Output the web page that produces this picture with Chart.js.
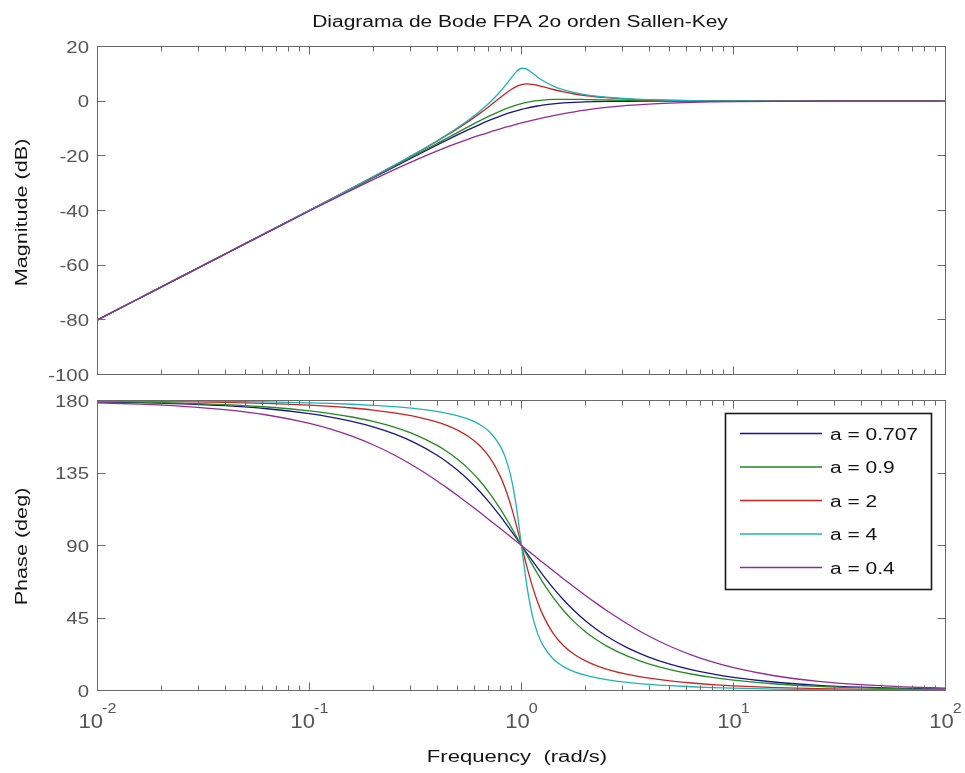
<!DOCTYPE html>
<html>
<head>
<meta charset="utf-8">
<script src="https://cdn.jsdelivr.net/npm/chart.js@4.4.1/dist/chart.umd.min.js"></script>
<style>
html,body{margin:0;padding:0;background:#fff;}
#wrap{position:relative;width:965px;height:773px;background:#fff;}
canvas{position:absolute;left:0;}
</style>
</head>
<body>
<div id="wrap">
<canvas id="mag" width="965" height="390" style="top:0px"></canvas>
<canvas id="ph" width="965" height="383" style="top:390px"></canvas>
</div>
<script>
// ---------------- data ----------------
const freq = [0.01, 0.015849, 0.025119, 0.039811, 0.063096, 0.1, 0.125893, 0.158489, 0.199526, 0.251189, 0.316228, 0.398107, 0.446684, 0.501187, 0.562341, 0.630957, 0.707946, 0.794328, 0.841395, 0.891251, 0.944061, 1,
  1.059254, 1.122018, 1.188502, 1.258925, 1.412538, 1.584893, 1.778279, 1.995262, 2.238721, 2.511886, 3.162278, 3.981072, 5.011872, 6.309573, 7.943282, 10, 15.848932, 25.118864, 39.810717, 63.095734, 100];

const seriesLabels = ['a = 0.707', 'a = 0.9', 'a = 2', 'a = 4', 'a = 0.4'];

const mag_a0707 = [-80, -72, -64, -56, -48, -40, -36, -32, -28.01, -24.02, -20.04, -16.11, -14.17, -12.27, -10.42, -8.64, -6.97, -5.46, -4.77, -4.13, -3.54, -3.01,
  -2.54, -2.13, -1.77, -1.46, -0.97, -0.64, -0.42, -0.27, -0.17, -0.11, -0.04, -0.02, -0.01, 0, 0, 0, 0, 0, 0, 0, 0];
const mag_a09 = [-80, -72, -64, -56, -47.99, -39.97, -35.95, -31.92, -27.87, -23.80, -19.70, -15.56, -13.48, -11.40, -9.34, -7.31, -5.38, -3.62, -2.82, -2.10, -1.46, -0.92,
  -0.46, -0.10, 0.18, 0.39, 0.62, 0.69, 0.67, 0.60, 0.52, 0.44, 0.30, 0.20, 0.13, 0.08, 0.05, 0.03, 0.01, 0.01, 0, 0, 0];
const mag_a2 = [-80, -72, -64, -55.99, -47.97, -39.92, -35.88, -31.81, -27.69, -23.51, -19.22, -14.74, -12.39, -9.95, -7.38, -4.65, -1.73, 1.32, 2.81, 4.18, 5.30, 6.02,
  6.30, 6.18, 5.81, 5.32, 4.27, 3.36, 2.62, 2.05, 1.61, 1.26, 0.78, 0.49, 0.31, 0.19, 0.12, 0.08, 0.03, 0.01, 0, 0, 0];
const mag_a4 = [-80, -72, -64, -55.99, -47.97, -39.92, -35.87, -31.79, -27.66, -23.45, -19.12, -14.56, -12.15, -9.61, -6.88, -3.88, -0.47, 3.55, 5.87, 8.36, 10.71, 12.04,
  11.71, 10.37, 8.87, 7.55, 5.53, 4.12, 3.12, 2.39, 1.85, 1.44, 0.88, 0.55, 0.34, 0.21, 0.13, 0.09, 0.03, 0.01, 0.01, 0, 0];
const mag_a04 = [-80, -72, -64.01, -56.03, -48.07, -40.18, -36.28, -32.44, -28.69, -25.05, -21.57, -18.30, -16.76, -15.29, -13.88, -12.55, -11.29, -10.11, -9.54, -9.00, -8.47, -7.96,
  -7.47, -7.00, -6.54, -6.11, -5.29, -4.55, -3.88, -3.29, -2.76, -2.30, -1.57, -1.05, -0.69, -0.44, -0.28, -0.18, -0.07, -0.03, -0.01, -0.01, 0];

const phase_a0707 = [179.19, 178.72, 177.96, 176.77, 174.88, 171.87, 169.74, 167.05, 163.62, 159.23, 153.57, 146.21, 141.72, 136.57, 130.69, 124.00, 116.48, 108.18, 103.79, 99.27, 94.66, 90,
  85.34, 80.73, 76.21, 71.82, 63.52, 56.00, 49.31, 43.43, 38.28, 33.79, 26.43, 20.77, 16.38, 12.95, 10.26, 8.13, 5.12, 3.23, 2.04, 1.28, 0.81];
const phase_a09 = [179.36, 178.99, 178.40, 177.46, 175.97, 173.60, 171.91, 169.76, 167.00, 163.41, 158.67, 152.27, 148.21, 143.36, 137.58, 130.65, 122.38, 112.69, 107.35, 101.73, 95.92, 90,
  84.08, 78.27, 72.65, 67.31, 57.62, 49.35, 42.42, 36.64, 31.79, 27.73, 21.33, 16.59, 13.00, 10.24, 8.09, 6.40, 4.03, 2.54, 1.60, 1.01, 0.64];
const phase_a2 = [179.71, 179.55, 179.28, 178.86, 178.19, 177.11, 176.34, 175.35, 174.07, 172.36, 170.04, 166.69, 164.41, 161.50, 157.65, 152.34, 144.64, 132.90, 124.77, 114.78, 102.97, 90,
  77.03, 65.22, 55.23, 47.10, 35.36, 27.66, 22.35, 18.50, 15.59, 13.31, 9.96, 7.64, 5.93, 4.65, 3.66, 2.89, 1.81, 1.14, 0.72, 0.45, 0.29];
const phase_a4 = [179.86, 179.77, 179.64, 179.43, 179.09, 178.55, 178.17, 177.67, 177.03, 176.17, 174.98, 173.25, 172.06, 170.50, 168.38, 165.31, 160.46, 151.72, 144.24, 132.71, 114.74, 90,
  65.26, 47.29, 35.76, 28.28, 19.54, 14.69, 11.62, 9.50, 7.94, 6.75, 5.02, 3.83, 2.97, 2.33, 1.83, 1.45, 0.91, 0.57, 0.36, 0.23, 0.14];
const phase_a04 = [178.57, 177.73, 176.40, 174.31, 171.00, 165.83, 162.27, 157.88, 152.55, 146.17, 138.70, 130.21, 125.63, 120.86, 115.94, 110.89, 105.74, 100.53, 97.90, 95.27, 92.64, 90,
  87.36, 84.73, 82.10, 79.47, 74.26, 69.11, 64.06, 59.14, 54.37, 49.79, 41.30, 33.83, 27.45, 22.12, 17.73, 14.17, 9.00, 5.69, 3.60, 2.27, 1.43];

const magTicks = [-100, -80, -60, -40, -20, 0, 20];
const phaseTicks = [0, 45, 90, 135, 180];
const xMajorTicks = [0.01, 0.1, 1, 10, 100];
const xMinorTicks = [0.02, 0.03, 0.04, 0.05, 0.06, 0.07, 0.08, 0.09,
  0.2, 0.3, 0.4, 0.5, 0.6, 0.7, 0.8, 0.9,
  2, 3, 4, 5, 6, 7, 8, 9,
  20, 30, 40, 50, 60, 70, 80, 90];
const xTickBase = ['10', '10', '10', '10', '10'];
const xTickExp = ['-2', '-1', '0', '1', '2'];

const titleText = 'Diagrama de Bode FPA 2o orden Sallen-Key';
const magLabel = 'Magnitude (dB)';
const phaseLabel = 'Phase (deg)';
const freqLabel = 'Frequency  (rad/s)';

// ---------------- styles ----------------
const colors = ['#16168a', '#228b22', '#cc2222', '#1fb4b4', '#952a95'];
const AXIS = '#6a6a6a';
const TICKC = '#555555';
const TEXTC = '#141414';
const FONT = '"Liberation Sans", Arial, Helvetica, sans-serif';
const MAJOR = 8, MINOR = 5;
const PH_TOP = 390;

function sText(ctx, str, x, y, size, sx, align, color, rotate) {
  ctx.save();
  ctx.translate(x, y);
  if (rotate) ctx.rotate(-Math.PI / 2);
  ctx.scale(sx, 1);
  ctx.font = size + 'px ' + FONT;
  ctx.fillStyle = color;
  ctx.textAlign = align;
  ctx.textBaseline = 'alphabetic';
  ctx.fillText(str, 0, 0);
  ctx.restore();
}

function makeDatasets(arrays) {
  return arrays.map((arr, i) => ({
    label: seriesLabels[i],
    data: freq.map((f, k) => ({ x: f, y: arr[k] })),
    borderColor: colors[i],
    backgroundColor: colors[i],
    borderWidth: 1.3,
    pointRadius: 0,
    fill: false,
    cubicInterpolationMode: 'monotone',
    order: 5 - i,
    clip: 3
  }));
}

function drawFrame(chart, yTicks) {
  const ctx = chart.ctx, a = chart.chartArea, xs = chart.scales.x, ys = chart.scales.y;
  ctx.save();
  ctx.strokeStyle = AXIS;
  ctx.lineWidth = 1;
  ctx.strokeRect(a.left, a.top, a.right - a.left, a.bottom - a.top);
  ctx.beginPath();
  const xp = v => Math.floor(xs.getPixelForValue(v)) + 0.5;
  const yp = v => Math.floor(ys.getPixelForValue(v)) + 0.5;
  xMinorTicks.forEach(v => {
    const p = xp(v);
    ctx.moveTo(p, a.bottom); ctx.lineTo(p, a.bottom - MINOR);
    ctx.moveTo(p, a.top); ctx.lineTo(p, a.top + MINOR);
  });
  xMajorTicks.forEach(v => {
    const p = xp(v);
    ctx.moveTo(p, a.bottom); ctx.lineTo(p, a.bottom - MAJOR);
    ctx.moveTo(p, a.top); ctx.lineTo(p, a.top + MAJOR);
  });
  yTicks.forEach(v => {
    const p = yp(v);
    ctx.moveTo(a.left, p); ctx.lineTo(a.left + MAJOR, p);
    ctx.moveTo(a.right, p); ctx.lineTo(a.right - MAJOR, p);
  });
  ctx.stroke();
  ctx.restore();
  yTicks.forEach(v => {
    sText(ctx, String(v), a.left - 8.5, ys.getPixelForValue(v) + 6, 17, 1.2, 'right', TICKC, false);
  });
}

const magPlugin = {
  id: 'magFrame',
  afterDatasetsDraw(chart) {
    drawFrame(chart, magTicks);
    const ctx = chart.ctx, a = chart.chartArea;
    sText(ctx, titleText, 520, 27, 16, 1.31, 'center', TEXTC, false);
    sText(ctx, magLabel, 26.5, (a.top + a.bottom) / 2 + 2, 16, 1.35, 'center', TEXTC, true);
  }
};

const phPlugin = {
  id: 'phFrame',
  afterDatasetsDraw(chart) {
    drawFrame(chart, phaseTicks);
    const ctx = chart.ctx, a = chart.chartArea, xs = chart.scales.x;
    // x tick labels 10^n
    xMajorTicks.forEach((v, i) => {
      const px = xs.getPixelForValue(v);
      ctx.save();
      ctx.font = '20px ' + FONT;
      const wb = ctx.measureText(xTickBase[i]).width * 1.1;
      ctx.font = '14px ' + FONT;
      const we = ctx.measureText(xTickExp[i]).width * 1.15;
      ctx.restore();
      const start = px - (wb + we - 1) / 2;
      sText(ctx, xTickBase[i], start, 728 - PH_TOP, 20, 1.1, 'left', TICKC, false);
      sText(ctx, xTickExp[i], start + wb - 1, 713 - PH_TOP, 14, 1.15, 'left', TICKC, false);
    });
    sText(ctx, freqLabel, 517, 762 - PH_TOP, 16, 1.38, 'center', TEXTC, false);
    sText(ctx, phaseLabel, 26.5, (a.top + a.bottom) / 2 + 1, 16, 1.35, 'center', TEXTC, true);
    // legend
    const lx = 725.5, ly = 413.5 - PH_TOP, lw = 206, lh = 176;
    ctx.save();
    ctx.fillStyle = '#ffffff';
    ctx.fillRect(lx, ly, lw, lh);
    ctx.strokeStyle = '#1a1a1a';
    ctx.lineWidth = 1.6;
    ctx.strokeRect(lx, ly, lw, lh);
    ctx.restore();
    const ds = chart.data.datasets;
    ds.forEach((d, i) => {
      const ry = 433.5 - PH_TOP + i * 33.5;
      ctx.save();
      ctx.strokeStyle = d.borderColor;
      ctx.lineWidth = 1.3;
      ctx.beginPath();
      ctx.moveTo(740, ry); ctx.lineTo(822, ry);
      ctx.stroke();
      ctx.restore();
      sText(ctx, d.label, 830, ry + 6, 16, 1.31, 'left', TEXTC, false);
    });
  }
};

function baseOptions(ymin, ymax, pad) {
  return {
    responsive: false,
    animation: false,
    devicePixelRatio: 1,
    layout: { padding: pad },
    plugins: { legend: { display: false }, tooltip: { enabled: false }, title: { display: false } },
    scales: {
      x: { type: 'logarithmic', min: 0.01, max: 100, display: false },
      y: { type: 'linear', min: ymin, max: ymax, display: false }
    },
    elements: { line: { tension: 0 } }
  };
}

new Chart(document.getElementById('mag'), {
  type: 'line',
  data: { datasets: makeDatasets([mag_a0707, mag_a09, mag_a2, mag_a4, mag_a04]) },
  options: baseOptions(-100, 20, { left: 97.5, right: 19.5, top: 46.5, bottom: 15.5 }),
  plugins: [magPlugin]
});

new Chart(document.getElementById('ph'), {
  type: 'line',
  data: { datasets: makeDatasets([phase_a0707, phase_a09, phase_a2, phase_a4, phase_a04]) },
  options: baseOptions(0, 180, { left: 97.5, right: 19.5, top: 10.5, bottom: 82.5 }),
  plugins: [phPlugin]
});
</script>
</body>
</html>
